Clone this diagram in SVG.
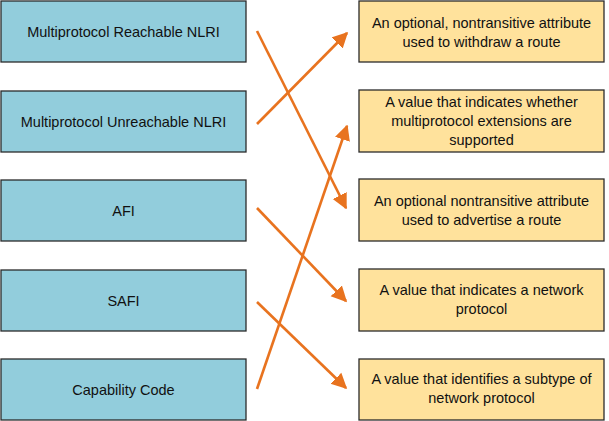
<svg xmlns="http://www.w3.org/2000/svg" width="609" height="421" viewBox="0 0 609 421">
<style>
.l{fill:#92CDDC;stroke:#2b2b2b;stroke-width:1.3}
.r{fill:#FFE29C;stroke:#2b2b2b;stroke-width:1.3}
text{font-family:"Liberation Sans",Arial,sans-serif;font-size:14.5px;fill:#111;text-anchor:middle;dominant-baseline:central}
.c{stroke:#E8731F;stroke-width:2.6;fill:none;marker-end:url(#ah)}
</style>
<defs>
<marker id="ah" viewBox="0 0 10 10" refX="9" refY="5" markerWidth="6" markerHeight="6.5" markerUnits="strokeWidth" orient="auto">
<path d="M0,0 L10,5 L0,10 z" fill="#E8731F"/>
</marker>
</defs>
<rect width="609" height="421" fill="#ffffff"/>
<g id="n1"><rect class="l" x="1" y="1" width="245" height="61"/><text x="123.5" y="31.5">Multiprotocol Reachable NLRI</text></g>
<g id="n2"><rect class="l" x="1" y="91" width="245" height="61"/><text x="123.5" y="121.5">Multiprotocol Unreachable NLRI</text></g>
<g id="n3"><rect class="l" x="1" y="180" width="245" height="61"/><text x="123.5" y="210.5">AFI</text></g>
<g id="n4"><rect class="l" x="1" y="270" width="245" height="61"/><text x="123.5" y="300.5">SAFI</text></g>
<g id="n5"><rect class="l" x="1" y="359" width="245" height="61"/><text x="123.5" y="389.5">Capability Code</text></g>
<g id="m1"><rect class="r" x="359" y="1" width="245" height="61"/><text x="481.5" y="23">An optional, nontransitive attribute</text><text x="481.5" y="42">used to withdraw a route</text></g>
<g id="m2"><rect class="r" x="359" y="90" width="245" height="62"/><text x="481.5" y="102">A value that indicates whether</text><text x="481.5" y="121">multiprotocol extensions are</text><text x="481.5" y="140">supported</text></g>
<g id="m3"><rect class="r" x="359" y="179" width="245" height="62"/><text x="481.5" y="201">An optional nontransitive attribute</text><text x="481.5" y="220">used to advertise a route</text></g>
<g id="m4"><rect class="r" x="359" y="269" width="245" height="62"/><text x="481.5" y="290">A value that indicates a network</text><text x="481.5" y="309">protocol</text></g>
<g id="m5"><rect class="r" x="359" y="359" width="245" height="61"/><text x="481.5" y="379">A value that identifies a subtype of</text><text x="481.5" y="398">network protocol</text></g>
<g id="connectors">
<line class="c" x1="257" y1="31" x2="346" y2="208"/>
<line class="c" x1="257" y1="124" x2="347" y2="33"/>
<line class="c" x1="257" y1="208" x2="346" y2="301"/>
<line class="c" x1="257" y1="302" x2="346" y2="388"/>
<line class="c" x1="257" y1="389" x2="347" y2="126"/>
</g>
</svg>
